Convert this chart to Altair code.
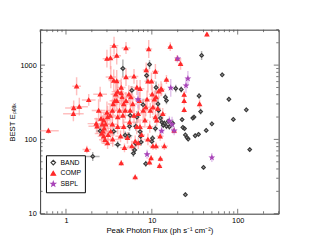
import altair as alt
import pandas as pd

# ---------------- data ----------------
band_flux = [2.05, 2.5, 4.6, 3.6, 4.0, 5.4, 5.85, 6.1, 6.3, 6.7, 6.5, 7.3, 7.4, 7.5, 7.9, 8.7, 9.4, 8.5,
             10.0, 10.2, 11.0, 11.2, 12.0, 11.8, 12.6, 13.1, 13.6, 14.0, 14.8, 15.5, 14.4, 14.8, 16.0,
             19.0, 22.0, 22.5, 23.0, 24.0, 24.6, 25.7, 26.5, 24.6, 30, 31, 32, 35, 35.5, 37, 38, 40, 43,
             50, 66, 79, 89, 126, 138, 5.6, 5.5, 6.5, 17.5, 4.9]
band_epeak = [59, 130, 900, 128, 85, 112, 457, 65, 72, 200, 150, 127, 110, 92, 293, 725, 1020, 47,
              94, 104, 140, 500, 245, 300, 194, 170, 155, 165, 150, 175, 370, 333, 148,
              485, 470, 185, 145, 140, 115, 106, 101, 18, 194, 200, 112, 117, 385, 237, 1350, 42, 132,
              162, 740, 347, 186, 250, 73, 210, 150, 88, 165, 114]
band_dflux = [0.08, 0.05, 0.03, 0.04, 0.04, 0.04, 0.03, 0.03, 0.03, 0.03, 0.03, 0.03, 0.03, 0.03, 0.03, 0.03, 0.03, 0.03,
              0.03, 0.03, 0.03, 0.02, 0.02, 0.02, 0.02, 0.02, 0.02, 0.02, 0.02, 0.02, 0.02, 0.02, 0.02,
              0.02, 0.02, 0.02, 0.02, 0.02, 0.02, 0.02, 0.02, 0.02, 0.02, 0.02, 0.02, 0.02, 0.02, 0.02, 0.02, 0.02, 0.02,
              0.02, 0.02, 0.02, 0.02, 0.02, 0.02, 0.03, 0.03, 0.03, 0.02, 0.03]
band_depeak = [0.06, 0.07, 0.12, 0.05, 0.05, 0.05, 0.06, 0.05, 0.05, 0.08, 0.06, 0.06, 0.05, 0.05, 0.08, 0.08, 0.06, 0.04,
               0.04, 0.04, 0.05, 0.08, 0.08, 0.08, 0.05, 0.05, 0.04, 0.04, 0.04, 0.04, 0.05, 0.05, 0.04,
               0.05, 0.04, 0.03, 0.03, 0.03, 0.03, 0.03, 0.03, 0.03, 0.03, 0.03, 0.03, 0.03, 0.04, 0.04, 0.06, 0.03, 0.03,
               0.03, 0.03, 0.03, 0.03, 0.03, 0.03, 0.08, 0.06, 0.05, 0.05, 0.05]

comp_flux = [0.625, 1.22, 1.23, 1.33, 1.43, 1.75, 1.84, 2.5, 2.25, 3.0, 3.3, 3.33, 3.63, 3.9, 3.6, 3.9, 4.4, 5.0,
             5.0, 6.2, 6.4, 4.4, 6.7, 7.3, 8.6, 9.2, 9.4, 9.8, 11.0, 12.3, 12.6, 12.8, 14.8, 16.4, 21.6, 19.8,
             23.8, 23.8, 23.8, 36, 43.8, 18.2, 2.3, 2.6, 3.5, 4.0, 5.5, 9.0, 3.0,
             2.4, 2.56, 2.65, 2.75, 2.79, 2.7, 2.75, 2.85, 2.9, 3.05, 3.05, 3.27, 3.1, 3.32, 3.47, 3.47, 3.55,
             3.7, 3.8, 3.9, 4.0, 4.0, 4.2, 4.32, 4.4, 4.5, 4.6, 4.7, 4.7, 4.8, 4.9, 5.0, 5.2, 5.4, 5.6, 5.7,
             5.85, 6.0, 6.2, 6.4, 6.67, 6.95, 6.95, 7.15, 7.28, 7.6, 7.94, 8.3, 8.5, 8.8, 9.0, 9.45, 9.6, 9.9,
             10.1, 10.3, 10.7, 11.0, 11.2, 11.4, 11.7, 12.0, 12.5, 13.0, 13.4, 14.0, 11.2, 10.3]
comp_epeak = [131, 221, 265, 520, 276, 73, 340, 405, 163, 1220, 1240, 690, 1830, 1340, 620, 610, 500, 690,
              1700, 705, 31, 48, 500, 480, 860, 1650, 49, 56, 820, 44, 55, 480, 640, 1775, 1040, 1220,
              400, 330, 250, 300, 2600, 131, 150, 120, 100, 440, 170, 100, 230,
              245, 190, 160, 181, 141, 128, 110, 99, 160, 89, 200, 210, 115, 128, 245, 160, 300,
              331, 405, 331, 200, 148, 245, 110, 420, 370, 210, 300, 148, 77, 245, 331, 105, 405, 245, 370,
              81, 300, 210, 94, 148, 221, 89, 331, 148, 115, 245, 181, 271, 345, 605, 148, 245, 605,
              405, 271, 345, 200, 370, 181, 260, 445, 110, 470, 221, 81, 81, 81]
comp_dflux = [0.12, 0.12, 0.10, 0.05, 0.10, 0.05, 0.08, 0.08, 0.10, 0.05, 0.05, 0.06, 0.05, 0.05, 0.06, 0.05, 0.05, 0.05,
              0.05, 0.05, 0.03, 0.03, 0.05, 0.05, 0.04, 0.04, 0.03, 0.03, 0.04, 0.03, 0.03, 0.03, 0.03, 0.03, 0.03, 0.03,
              0.02, 0.02, 0.02, 0.02, 0.02, 0.02, 0.10, 0.08, 0.08, 0.07, 0.07, 0.05, 0.08,
              0.08, 0.08, 0.08, 0.07, 0.07, 0.07, 0.07, 0.07, 0.07, 0.07, 0.07, 0.07, 0.07, 0.06, 0.06, 0.06, 0.06,
              0.06, 0.06, 0.06, 0.06, 0.06, 0.06, 0.06, 0.06, 0.06, 0.06, 0.05, 0.05, 0.05, 0.05, 0.05, 0.05, 0.05, 0.05, 0.05,
              0.05, 0.05, 0.05, 0.05, 0.05, 0.05, 0.05, 0.05, 0.05, 0.04, 0.04, 0.04, 0.04, 0.04, 0.04, 0.04, 0.04, 0.04,
              0.04, 0.04, 0.04, 0.04, 0.04, 0.04, 0.04, 0.04, 0.04, 0.04, 0.04, 0.04, 0.04, 0.04]
comp_depeak = [0.04, 0.10, 0.10, 0.12, 0.12, 0.05, 0.08, 0.10, 0.08, 0.12, 0.15, 0.15, 0.12, 0.12, 0.15, 0.15, 0.12, 0.12,
               0.08, 0.10, 0.04, 0.04, 0.10, 0.12, 0.10, 0.12, 0.04, 0.04, 0.10, 0.04, 0.04, 0.10, 0.06, 0.06, 0.08, 0.05,
               0.05, 0.05, 0.04, 0.06, 0.03, 0.04, 0.10, 0.12, 0.10, 0.12, 0.10, 0.08, 0.15,
               0.15, 0.12, 0.12, 0.10, 0.10, 0.10, 0.10, 0.08, 0.12, 0.08, 0.15, 0.15, 0.10, 0.10, 0.15, 0.10, 0.15,
               0.15, 0.15, 0.12, 0.12, 0.10, 0.12, 0.08, 0.15, 0.15, 0.12, 0.12, 0.10, 0.06, 0.12, 0.12, 0.08, 0.12, 0.12, 0.15,
               0.06, 0.12, 0.12, 0.08, 0.10, 0.12, 0.08, 0.12, 0.10, 0.08, 0.12, 0.10, 0.12, 0.12, 0.15, 0.08, 0.10, 0.12,
               0.12, 0.10, 0.12, 0.08, 0.10, 0.08, 0.10, 0.10, 0.06, 0.08, 0.08, 0.05, 0.05, 0.05]

sbpl_flux = [6.9, 8.8, 13, 16, 16.6, 17.2, 18.2, 20, 25, 26.3, 50]
sbpl_epeak = [345, 63, 130, 178, 495, 160, 131, 1220, 530, 660, 57]
sbpl_dflux = [0.04, 0.03, 0.03, 0.03, 0.03, 0.03, 0.03, 0.02, 0.02, 0.02, 0.02]
sbpl_depeak = [0.12, 0.06, 0.08, 0.06, 0.12, 0.10, 0.06, 0.04, 0.10, 0.10, 0.06]

x_major = [1, 10, 100]
x_minor = [0.5, 0.6, 0.7, 0.8, 0.9, 2, 3, 4, 5, 6, 7, 8, 9, 20, 30, 40, 50, 60, 70, 80, 90, 200, 300]
y_major = [10, 100, 1000]
y_minor = [20, 30, 40, 50, 60, 70, 80, 90, 200, 300, 400, 500, 600, 700, 800, 900, 2000, 3000]

categories = ["BAND", "COMP", "SBPL"]
stroke_colors = ["#3a3a3a", "#ff2a2a", "#a844b8"]
fill_colors = ["transparent", "#ff2a2a", "#a844b8"]
bar_colors = {"BAND": "#8a8a8a", "COMP": "#ff9c9c", "SBPL": "#d4a4e4"}
STAR = ("M0,-1L0.235,-0.324L0.951,-0.309L0.38,0.124L0.588,0.809L0,0.4"
        "L-0.588,0.809L-0.38,0.124L-0.951,-0.309L-0.235,-0.324Z")
shapes = ["diamond", "triangle-up", STAR]

# ---------------- build table ----------------
rows = []
for name, fl, ep, dfl, dep in [("BAND", band_flux, band_epeak, band_dflux, band_depeak),
                               ("COMP", comp_flux, comp_epeak, comp_dflux, comp_depeak),
                               ("SBPL", sbpl_flux, sbpl_epeak, sbpl_dflux, sbpl_depeak)]:
    for f, e, df_, de in zip(fl, ep, dfl, dep):
        rows.append({"type": name, "flux": f, "epeak": e,
                     "flo": f / 10 ** df_, "fhi": f * 10 ** df_,
                     "elo": e / 10 ** de, "ehi": e * 10 ** de})
df = pd.DataFrame(rows)

W, H = 245, 189
FONT = "Liberation Sans"

xs = alt.Scale(type="log", domain=[0.5, 300], nice=False)
ys = alt.Scale(type="log", domain=[10, 3000], nice=False)

x_axis = alt.Axis(values=x_major, ticks=False, domain=False, grid=False, labelFont=FONT,
                  labelFontSize=7.5, labelPadding=3, labelColor="black", orient="bottom",
                  title="Peak Photon Flux (ph s\u207b\u00b9 cm\u207b\u00b2)",
                  titleFont=FONT, titleFontSize=8, titleFontWeight="normal", titlePadding=3)
y_axis = alt.Axis(values=y_major, ticks=False, domain=False, grid=False, labelFont=FONT,
                  labelFontSize=7.5, labelPadding=4, labelColor="black", format="d", orient="left",
                  title="BEST E\u209a\u2091\u2090\u2096",
                  titleFont=FONT, titleFontSize=8, titleFontWeight="normal", titlePadding=4)

err_layers = []
for name in categories:
    sub = alt.Chart(df).transform_filter(alt.datum.type == name)
    err_layers.append(sub.mark_rule(strokeWidth=1.5, opacity=0.65, clip=True, color=bar_colors[name]).encode(
        x=alt.X("flo:Q", scale=xs, axis=x_axis), x2="fhi:Q", y=alt.Y("epeak:Q", scale=ys, axis=y_axis)))
    err_layers.append(sub.mark_rule(strokeWidth=1.5, opacity=0.65, clip=True, color=bar_colors[name]).encode(
        y=alt.Y("elo:Q", scale=ys, axis=y_axis), y2="ehi:Q", x=alt.X("flux:Q", scale=xs, axis=x_axis)))

legend = alt.Legend(title=None, orient="none", legendX=6, legendY=129,
                    strokeColor="black", fillColor="white", padding=4, cornerRadius=0,
                    labelFont=FONT, labelFontSize=7, symbolSize=22, symbolStrokeWidth=1.2,
                    rowPadding=1, labelOffset=4)

points = alt.Chart(df).mark_point(size=14, strokeWidth=1.2, opacity=1, fillOpacity=1, clip=True).encode(
    x=alt.X("flux:Q", scale=xs, axis=x_axis),
    y=alt.Y("epeak:Q", scale=ys, axis=y_axis),
    shape=alt.Shape("type:N", scale=alt.Scale(domain=categories, range=shapes), legend=legend),
    stroke=alt.Stroke("type:N", scale=alt.Scale(domain=categories, range=stroke_colors), legend=legend),
    fill=alt.Fill("type:N", scale=alt.Scale(domain=categories, range=fill_colors), legend=legend),
)

# inward ticks on all four sides
def xticks(vals, length):
    d = pd.DataFrame({"v": vals})
    b = alt.Chart(d).mark_rule(color="#555555", strokeWidth=0.8)
    bottom = b.encode(x=alt.X("v:Q", scale=xs, axis=x_axis), y=alt.value(H), y2=alt.value(H - length))
    top = b.encode(x=alt.X("v:Q", scale=xs, axis=x_axis), y=alt.value(0), y2=alt.value(length))
    return [bottom, top]

def yticks(vals, length):
    d = pd.DataFrame({"v": vals})
    b = alt.Chart(d).mark_rule(color="#555555", strokeWidth=0.8)
    left = b.encode(y=alt.Y("v:Q", scale=ys, axis=y_axis), x=alt.value(0), x2=alt.value(length))
    right = b.encode(y=alt.Y("v:Q", scale=ys, axis=y_axis), x=alt.value(W), x2=alt.value(W - length))
    return [left, right]

tick_layers = xticks(x_major, 5) + xticks(x_minor, 2.5) + yticks(y_major, 5) + yticks(y_minor, 2.5)

chart = alt.layer(*err_layers, points, *tick_layers).properties(
    width=W, height=H,
    autosize=alt.AutoSizeParams(type="none"),
    padding={"left": 33, "top": 19, "right": 25, "bottom": 33},
).configure_view(stroke="#333333", strokeWidth=1)

chart.save("out.html", embed_options={"renderer": "svg", "actions": False})
